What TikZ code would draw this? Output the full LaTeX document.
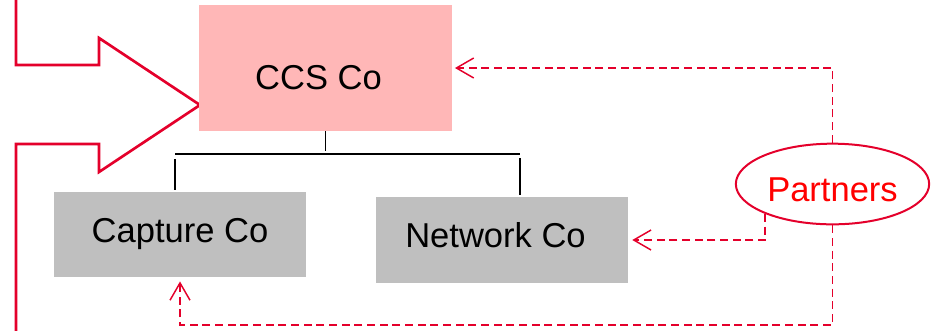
\documentclass[tikz,border=0pt]{standalone}
\usepackage{fontspec}
\setmainfont{Liberation Sans}
\usetikzlibrary{arrows.meta,shapes.geometric}
\definecolor{ccspink}{RGB}{255,183,183}
\definecolor{subgray}{RGB}{191,191,191}
\definecolor{linered}{RGB}{228,0,43}
\definecolor{textred}{RGB}{255,0,0}
\tikzset{
  lbl/.style={font=\fontsize{25.9}{30}\selectfont, inner sep=0pt},
  ccsbox/.style={lbl, fill=ccspink, minimum width=189.75pt, minimum height=94.5pt, text height=32pt, text depth=0pt},
  subbox/.style={lbl, fill=subgray, minimum width=189pt, minimum height=64pt, text height=11.5pt, text depth=0pt},
  partnerell/.style={lbl, ellipse, draw=linered, line width=1.5pt, text=textred, minimum width=145pt, minimum height=60.5pt, text height=26.8pt, text depth=0pt},
  treeline/.style={black, line width=1.4pt},
  blockarrow/.style={draw=linered, line width=2pt, line join=miter},
  dasharrow/.style={draw=linered, line width=1.1pt, dash pattern=on 6pt off 3.5pt, -{Straight Barb[length=13pt,width=15pt]}}
}
\begin{document}
\begin{tikzpicture}[x=0.75pt,y=-0.75pt]
\useasboundingbox (0,0) rectangle (937,330);
% block arrow
\draw[blockarrow] (16,-5) -- (16,65) -- (99,65) -- (99,38) -- (200,105) -- (99,172) -- (99,144) -- (16,144) -- (16,335);
% boxes
\node[ccsbox] (ccs) at (325.5,68) {CCS Co\kern10.5pt\relax};
\node[subbox] (capture) at (180,234.5) {Capture Co};
\node[subbox, minimum height=64.5pt] (network) at (502,240) {Network Co\kern9.75pt\relax};
\node[partnerell] (partners) at (832.5,184) {Partners};
% tree
\coordinate (tl) at (175,154);
\coordinate (tr) at (520,154);
\draw[treeline] (ccs.south) -- (ccs.south |- 0,151);
\draw[treeline] (tl) -- (tr);
\draw[treeline] (175,159) -- (175,190);
\draw[treeline] (520,158) -- (520,195);
% dashed connectors
\draw[dasharrow, shorten >=2pt] (partners.north) |- (ccs.east);
\draw[dasharrow, shorten >=3pt] (partners.204) |- (network.east);
\coordinate (bot) at (832.5,325);
\draw[dasharrow, shorten >=3pt] (partners.south) -- (bot) -| (capture.south);
\end{tikzpicture}
\end{document}
